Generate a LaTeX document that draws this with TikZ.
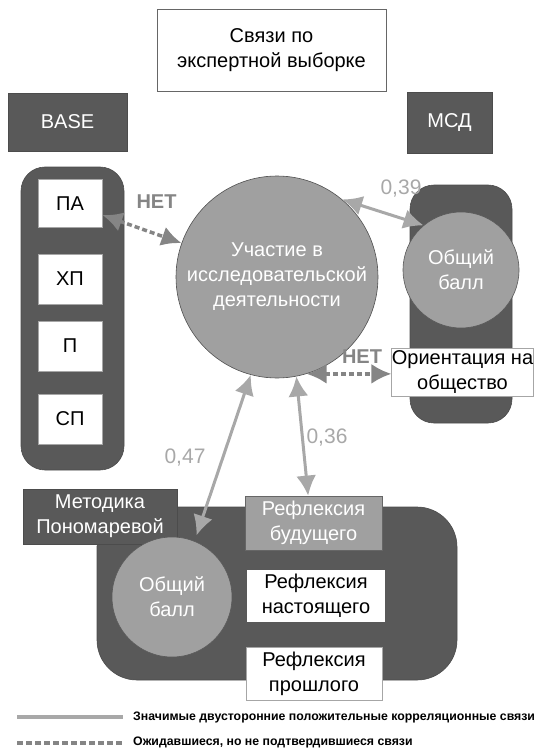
\documentclass[tikz,border=0pt]{standalone}
\usepackage{fontspec}
\setmainfont{Liberation Sans}
\usetikzlibrary{arrows.meta,calc}
\definecolor{dk}{HTML}{595959}
\definecolor{cg}{HTML}{A0A0A0}
\definecolor{ar}{HTML}{A8A8A8}
\definecolor{da}{HTML}{858585}
\begin{document}
\begin{tikzpicture}[x=1pt,y=-1pt,
  txt/.style={font=\fontsize{20}{25}\selectfont, align=center, inner sep=0pt},
  darkbox/.style={txt, fill=dk, text=white, draw=dk!85!black, line width=0.6pt},
  whitebox/.style={txt, fill=white, draw=gray!70, line width=0.8pt},
  cont/.style={fill=dk, draw=dk!85!black, line width=0.6pt, inner sep=0pt},
  circ/.style={txt, circle, fill=cg, draw=dk!90!black, line width=0.6pt, text=white},
  lab/.style={font=\fontsize{21}{24}\selectfont, inner sep=0pt},
  netlab/.style={font=\bfseries\fontsize{20}{24}\selectfont, inner sep=0pt, text=da},
  solidarr/.style={draw=ar, line width=3pt, {Latex[length=20pt,width=20pt]}-{Latex[length=20pt,width=20pt]}},
  dasharr/.style={draw=da, line width=3.5pt, dash pattern=on 5pt off 3pt, {Latex[length=20pt,width=20pt]}-{Latex[length=20pt,width=20pt]}},
  legtxt/.style={font=\bfseries\fontsize{12.3}{14}\selectfont, anchor=west, inner sep=0pt}
]
\useasboundingbox (0,0) rectangle (536,749);

% title
\node[whitebox, draw=gray!80!black, minimum width=229pt, minimum height=82pt] (title) at (271.5,50) {Связи по\\экспертной выборке};

% header boxes
\node[darkbox, minimum width=119pt, minimum height=58pt] (base) at (67.5,122) {BASE};
\node[darkbox, minimum width=85pt, minimum height=61pt] (msd) at (449.5,122.5) {МСД};

% containers
\node[cont, rounded corners=24pt, minimum width=103pt, minimum height=303pt] (lcont) at (72.5,318.5) {};
\node[cont, rounded corners=24pt, minimum width=102pt, minimum height=238pt] (rcont) at (461,304) {};
\node[cont, rounded corners=40pt, minimum width=360pt, minimum height=173pt] (bcont) at (277,593.5) {};

% left boxes
\node[whitebox, minimum width=64pt, minimum height=48pt] (pa) at (70,203.5) {ПА};
\node[whitebox, minimum width=64pt, minimum height=50pt] (hp) at (70,279) {ХП};
\node[whitebox, minimum width=64pt, minimum height=50pt] (p) at (70,346) {П};
\node[whitebox, minimum width=64pt, minimum height=50pt] (sp) at (70,419) {СП};

% main circle
\node[circ, minimum size=202pt] (main) at (277,277) {Участие в\\исследовательской\\деятельности};

% right
\node[circ, minimum size=116pt, draw=dk] (ob1) at (461,270) {Общий\\балл};
\node[whitebox, minimum width=141pt, minimum height=48pt] (orient) at (462.5,372) {Ориентация на\\общество};

% bottom
\node[darkbox, minimum width=154pt, minimum height=55pt] (met) at (100,516.5) {Методика\\Пономаревой};
\node[circ, minimum size=120pt, draw=dk] (ob2) at (172,597) {Общий\\балл};
\node[txt, fill=cg, draw=gray!80!black, line width=0.8pt, text=white, minimum width=137pt, minimum height=54pt] (rb) at (313.5,523) {Рефлексия\\будущего};
\node[txt, fill=white, minimum width=138pt, minimum height=52pt] (rn) at (316,596) {Рефлексия\\настоящего};
\node[whitebox, minimum width=136pt, minimum height=53pt] (rp) at (314,673.5) {Рефлексия\\прошлого};

% connectors
\draw[dasharr] (pa) -- (main);
\draw[solidarr] (main.50) -- (ob1.130);
\draw[dasharr] (main.-73) -- (main.-73 -| orient.west);
\draw[solidarr, shorten >=6pt] (main.-105) -- (ob2.68);
\draw[solidarr] (main.-79) -- (rb.101);

% labels
\node[netlab] (net1) at (156.5,202) {НЕТ};
\node[lab, text=ar] (l39) at (401,189) {0,39};
\node[netlab] (net2) at (362,357) {НЕТ};
\node[lab, text=ar] (l47) at (185,458) {0,47};
\node[lab, text=ar] (l36) at (327,438) {0,36};

% legend
\coordinate (s1) at (17,717);
\coordinate (s2) at (123,717);
\coordinate (d1) at (17,743);
\coordinate (d2) at (123,743);
\draw[draw=ar, line width=3.5pt] (s1) -- (s2);
\draw[draw=da, line width=3.5pt, dash pattern=on 6pt off 3pt] (d1) -- (d2);
\node[legtxt] (leg1) at (133,717) {Значимые двусторонние положительные корреляционные связи};
\node[legtxt] (leg2) at (133,742) {Ожидавшиеся, но не подтвердившиеся связи};
\end{tikzpicture}
\end{document}
